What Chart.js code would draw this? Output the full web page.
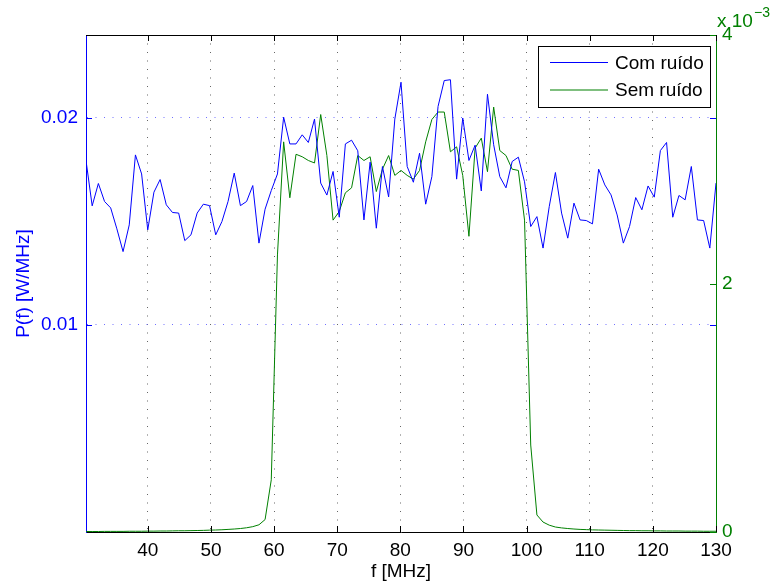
<!DOCTYPE html>
<html>
<head>
<meta charset="utf-8">
<script src="https://cdn.jsdelivr.net/npm/chart.js@4/dist/chart.umd.min.js"></script>
<style>
  html, body { margin: 0; padding: 0; background: #fff; }
  #wrap { width: 770px; height: 588px; }
</style>
</head>
<body>
<div id="wrap"><canvas id="c" width="770" height="588"></canvas></div>
<script>
// Frequency samples (MHz)
const freqMHz = [
  30.20, 31.18, 32.16, 33.14, 34.11, 35.09, 36.07, 37.05, 38.03, 39.01,
  39.98, 40.96, 41.94, 42.92, 43.90, 44.88, 45.85, 46.83, 47.81, 48.79,
  49.77, 50.75, 51.73, 52.70, 53.68, 54.66, 55.64, 56.62, 57.60, 58.57,
  59.55, 60.53, 61.51, 62.49, 63.47, 64.45, 65.42, 66.40, 67.38, 68.36,
  69.34, 70.32, 71.29, 72.27, 73.25, 74.23, 75.21, 76.19, 77.16, 78.14,
  79.12, 80.10, 81.08, 82.06, 83.04, 84.01, 84.99, 85.97, 86.95, 87.93,
  88.91, 89.88, 90.86, 91.84, 92.82, 93.80, 94.78, 95.75, 96.73, 97.71,
  98.69, 99.67, 100.65, 101.63, 102.60, 103.58, 104.56, 105.54, 106.52, 107.50,
  108.47, 109.45, 110.43, 111.41, 112.39, 113.37, 114.34, 115.32, 116.30, 117.28,
  118.26, 119.24, 120.22, 121.19, 122.17, 123.15, 124.13, 125.11, 126.09, 127.06,
  128.04, 129.02, 130.00
];

// Power spectral density with noise (W/MHz), left axis
const comRuido = [
  0.01794, 0.01575, 0.01683, 0.01596, 0.01565, 0.01464, 0.01354, 0.01483, 0.01821, 0.01729,
  0.01459, 0.01641, 0.01702, 0.01580, 0.01543, 0.01540, 0.01407, 0.01435, 0.01540, 0.01583,
  0.01576, 0.01435, 0.01499, 0.01596, 0.01733, 0.01576, 0.01596, 0.01673, 0.01395, 0.01559,
  0.01649, 0.01729, 0.02003, 0.01874, 0.01874, 0.01918, 0.01881, 0.01994, 0.01685, 0.01627,
  0.01741, 0.01520, 0.01874, 0.01892, 0.01841, 0.01507, 0.01786, 0.01467, 0.01765, 0.01618,
  0.01994, 0.02172, 0.01765, 0.01689, 0.01829, 0.01583, 0.01716, 0.02055, 0.02180, 0.02184,
  0.01704, 0.01999, 0.01794, 0.01868, 0.01647, 0.02114, 0.01870, 0.01716, 0.01662, 0.01789,
  0.01810, 0.01691, 0.01475, 0.01523, 0.01371, 0.01571, 0.01736, 0.01540, 0.01419, 0.01588,
  0.01507, 0.01504, 0.01488, 0.01752, 0.01676, 0.01628, 0.01531, 0.01395, 0.01475, 0.01615,
  0.01556, 0.01671, 0.01617, 0.01842, 0.01881, 0.01520, 0.01625, 0.01604, 0.01765, 0.01507,
  0.01504, 0.01371, 0.01685
];

// Power spectral density without noise, in units of 1e-3 W/MHz, right axis
const semRuido = [
  0.004, 0.004, 0.004, 0.005, 0.005, 0.005, 0.005, 0.006, 0.006, 0.006,
  0.007, 0.007, 0.008, 0.008, 0.009, 0.010, 0.010, 0.011, 0.012, 0.013,
  0.015, 0.016, 0.018, 0.021, 0.024, 0.028, 0.034, 0.043, 0.058, 0.100,
  0.42, 2.23, 3.14, 2.69, 3.04, 3.02, 2.99, 2.97, 3.36, 3.03,
  2.51, 2.58, 2.73, 2.77, 3.03, 2.99, 3.02, 2.74, 2.92, 3.03,
  2.87, 2.91, 2.87, 2.84, 2.91, 3.14, 3.32, 3.38, 3.38, 3.06,
  3.10, 2.87, 2.38, 3.09, 3.17, 2.90, 3.42, 3.07, 3.03, 2.92,
  2.91, 2.51, 0.70, 0.137, 0.080, 0.055, 0.040, 0.033, 0.028, 0.024,
  0.021, 0.019, 0.017, 0.016, 0.015, 0.014, 0.013, 0.012, 0.011, 0.011,
  0.010, 0.010, 0.009, 0.009, 0.008, 0.008, 0.008, 0.007, 0.007, 0.007,
  0.006, 0.006, 0.006
];

const xTicks = [40, 50, 60, 70, 80, 90, 100, 110, 120, 130];
const leftTicks = [0.01, 0.02];
const rightTicks = [0, 2, 4];

const seriesNames = ['Com ruído', 'Sem ruído'];
const BLUE = 'rgb(0,0,255)';
const GREEN = 'rgb(0,128,0)';
const seriesColors = [BLUE, GREEN];
const FONT = '"Liberation Sans", Arial, Helvetica, sans-serif';
const FS = 19;

const toPoints = ys => freqMHz.map((f, i) => ({ x: f, y: ys[i] }));
const setTicks = vals => scale => { scale.ticks = vals.map(v => ({ value: v })); };

// Inward tick marks, top frame, exponent label and boxed legend
const framePlugin = {
  id: 'frame',
  afterDraw(chart) {
    const { ctx, chartArea: a, scales } = chart;
    const L = 6;
    ctx.save();
    ctx.lineWidth = 1;
    ctx.setLineDash([]);

    // top frame edge
    ctx.strokeStyle = '#000';
    ctx.beginPath();
    ctx.moveTo(a.left, a.top + 0.5);
    ctx.lineTo(a.right, a.top + 0.5);
    ctx.stroke();

    // x ticks (bottom and top, pointing inward)
    ctx.beginPath();
    xTicks.forEach(v => {
      const px = Math.round(scales.x.getPixelForValue(v)) + 0.5;
      ctx.moveTo(px, a.bottom); ctx.lineTo(px, a.bottom - L);
      ctx.moveTo(px, a.top); ctx.lineTo(px, a.top + L);
    });
    ctx.stroke();

    // left-axis ticks, mirrored on the right edge
    ctx.strokeStyle = BLUE;
    ctx.beginPath();
    leftTicks.forEach(v => {
      const py = Math.round(scales.y.getPixelForValue(v)) + 0.5;
      ctx.moveTo(a.left, py); ctx.lineTo(a.left + L, py);
      ctx.moveTo(a.right, py); ctx.lineTo(a.right - L, py);
    });
    ctx.stroke();

    // right-axis ticks
    ctx.strokeStyle = GREEN;
    ctx.beginPath();
    rightTicks.forEach(v => {
      const py = Math.round(scales.y1.getPixelForValue(v)) + 0.5;
      ctx.moveTo(a.right, py); ctx.lineTo(a.right - L, py);
    });
    ctx.stroke();

    // exponent of the right axis
    ctx.fillStyle = GREEN;
    ctx.textBaseline = 'alphabetic';
    ctx.textAlign = 'left';
    ctx.font = FS + 'px ' + FONT;
    ctx.fillText('x 10', a.right + 1, 27);
    ctx.font = '14px ' + FONT;
    ctx.fillText('\u22123', a.right + 38, 17);

    // legend
    const bx = 538.5, by = 46.5, bw = 172, bh = 61;
    ctx.fillStyle = '#fff';
    ctx.fillRect(bx, by, bw, bh);
    ctx.strokeStyle = '#000';
    ctx.strokeRect(bx, by, bw, bh);
    ctx.font = FS + 'px ' + FONT;
    ctx.textBaseline = 'middle';
    const rows = [62.5, 90];
    chart.data.datasets.forEach((ds, i) => {
      const y = rows[i];
      ctx.strokeStyle = seriesColors[i];
      ctx.lineWidth = 1.2;
      ctx.beginPath();
      ctx.moveTo(550, y);
      ctx.lineTo(608, y);
      ctx.stroke();
      ctx.fillStyle = '#000';
      ctx.fillText(ds.label, 615, y + 1);
    });
    ctx.restore();
  }
};

new Chart(document.getElementById('c'), {
  type: 'line',
  data: {
    datasets: [
      { label: seriesNames[0], data: toPoints(comRuido), yAxisID: 'y',
        borderColor: seriesColors[0], borderWidth: 1, pointRadius: 0, tension: 0, fill: false },
      { label: seriesNames[1], data: toPoints(semRuido), yAxisID: 'y1',
        borderColor: seriesColors[1], borderWidth: 1, pointRadius: 0, tension: 0, fill: false }
    ]
  },
  options: {
    responsive: false,
    animation: false,
    devicePixelRatio: 1,
    layout: { padding: { top: 35, left: 0, right: 0, bottom: 0 } },
    plugins: { legend: { display: false }, tooltip: { enabled: false } },
    scales: {
      x: {
        type: 'linear', position: 'bottom', min: 30.2, max: 130,
        afterBuildTicks: setTicks(xTicks),
        afterFit: s => { s.height = 56; },
        grid: { drawTicks: false, lineWidth: 1,
                color: c => (c.tick && c.tick.value === 130) ? 'rgba(0,0,0,0)' : '#666' },
        border: { color: '#000', width: 1, dash: [1, 7.5] },
        ticks: { color: '#000', font: { family: FONT, size: FS }, padding: 7,
                 maxRotation: 0, autoSkip: false },
        title: { display: true, text: 'f [MHz]', color: '#000',
                 font: { family: FONT, size: FS }, padding: { top: 0, bottom: 5 } }
      },
      y: {
        type: 'linear', position: 'left', min: 0, max: 0.024,
        afterBuildTicks: setTicks(leftTicks),
        afterFit: s => { s.width = 86; },
        grid: { drawTicks: false, lineWidth: 1, color: '#7070ff' },
        border: { color: BLUE, width: 1, dash: [1, 7.5] },
        ticks: { color: BLUE, font: { family: FONT, size: FS }, padding: 8,
                 callback: v => String(v) },
        title: { display: true, text: 'P(f) [W/MHz]', color: BLUE,
                 font: { family: FONT, size: FS }, padding: { top: 12, bottom: 0 } }
      },
      y1: {
        type: 'linear', position: 'right', min: 0, max: 4,
        afterBuildTicks: setTicks(rightTicks),
        afterFit: s => { s.width = 54; },
        grid: { display: false, drawTicks: false },
        border: { color: GREEN, width: 1 },
        ticks: { color: GREEN, font: { family: FONT, size: FS }, padding: 6,
                 callback: v => String(v) }
      }
    }
  },
  plugins: [framePlugin]
});
</script>
</body>
</html>
